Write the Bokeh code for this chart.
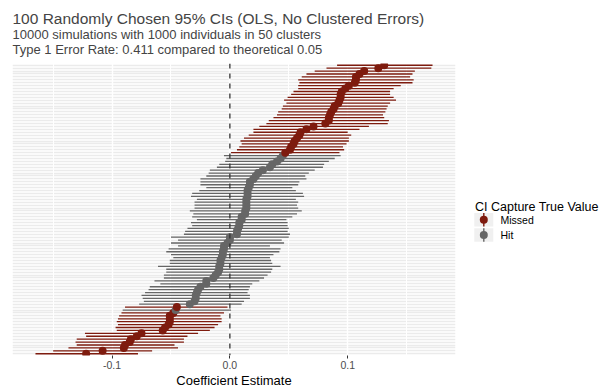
from bokeh.plotting import figure
from bokeh.models import (Range1d, FixedTicker, PrintfTickFormatter, Span, Title,
                          ColumnDataSource, Grid)
from bokeh.layouts import row
from bokeh.embed import file_html
from bokeh.resources import INLINE
from bokeh.core.properties import value

# ---------------- data (sorted by estimate, bottom to top) ----------------
estimate = [-0.122, -0.108, -0.090, -0.089, -0.085, -0.084, -0.079, -0.075, -0.057, -0.055,
            -0.052, -0.051, -0.051, -0.051, -0.048, -0.046, -0.045, -0.034, -0.030, -0.029,
            -0.029, -0.028, -0.027, -0.025, -0.020, -0.020, -0.014, -0.012, -0.010, -0.009,
            -0.009, -0.008, -0.008, -0.007, -0.006, -0.006, -0.005, -0.005, -0.002, 0.000,
            0.000, 0.006, 0.006, 0.007, 0.008, 0.008, 0.010, 0.010, 0.013, 0.013,
            0.014, 0.014, 0.014, 0.014, 0.015, 0.015, 0.015, 0.016, 0.017, 0.017,
            0.020, 0.022, 0.024, 0.028, 0.034, 0.036, 0.040, 0.043, 0.045, 0.047,
            0.051, 0.052, 0.054, 0.055, 0.057, 0.059, 0.060, 0.065, 0.071, 0.081,
            0.084, 0.084, 0.085, 0.086, 0.088, 0.089, 0.092, 0.093, 0.094, 0.094,
            0.095, 0.098, 0.101, 0.106, 0.107, 0.107, 0.110, 0.114, 0.126, 0.131]
lower = [-0.165, -0.150, -0.137, -0.130, -0.131, -0.130, -0.122, -0.123, -0.096, -0.097,
         -0.095, -0.096, -0.095, -0.094, -0.092, -0.091, -0.089, -0.077, -0.073, -0.074,
         -0.075, -0.072, -0.069, -0.068, -0.059, -0.064, -0.056, -0.056, -0.054, -0.054,
         -0.061, -0.051, -0.051, -0.048, -0.050, -0.054, -0.052, -0.044, -0.050, -0.044,
         -0.050, -0.039, -0.038, -0.036, -0.032, -0.033, -0.028, -0.032, -0.031, -0.034,
         -0.030, -0.030, -0.030, -0.028, -0.033, -0.032, -0.026, -0.020, -0.025, -0.025,
         -0.025, -0.020, -0.018, -0.017, -0.011, -0.009, -0.004, -0.003, -0.005, 0.001,
         0.006, 0.008, 0.010, 0.009, 0.012, 0.016, 0.020, 0.020, 0.025, 0.031,
         0.033, 0.037, 0.040, 0.041, 0.044, 0.045, 0.048, 0.046, 0.049, 0.052,
         0.054, 0.058, 0.058, 0.059, 0.058, 0.061, 0.065, 0.072, 0.082, 0.091]
upper = [-0.078, -0.066, -0.044, -0.047, -0.039, -0.039, -0.036, -0.027, -0.017, -0.013,
         -0.010, -0.007, -0.007, -0.008, -0.005, 0.001, -0.002, 0.010, 0.012, 0.017,
         0.017, 0.015, 0.016, 0.017, 0.019, 0.025, 0.029, 0.032, 0.035, 0.036,
         0.043, 0.036, 0.035, 0.034, 0.037, 0.042, 0.043, 0.034, 0.046, 0.044,
         0.050, 0.051, 0.049, 0.050, 0.049, 0.049, 0.048, 0.053, 0.057, 0.061,
         0.058, 0.057, 0.058, 0.056, 0.063, 0.062, 0.056, 0.053, 0.058, 0.059,
         0.065, 0.064, 0.067, 0.072, 0.079, 0.080, 0.084, 0.089, 0.094, 0.093,
         0.097, 0.096, 0.099, 0.101, 0.101, 0.103, 0.100, 0.110, 0.118, 0.134,
         0.135, 0.131, 0.130, 0.132, 0.133, 0.134, 0.136, 0.141, 0.139, 0.136,
         0.136, 0.139, 0.145, 0.155, 0.156, 0.153, 0.155, 0.157, 0.171, 0.172]
rows = list(range(len(estimate)))
x_ticks = [-0.1, 0.0, 0.1]
x_minor_grid = [-0.15, -0.05, 0.05, 0.15]
true_value = 0.0
legend_labels = ["Missed", "Hit"]

RED = "#7E1B0E"
GREY = "#666666"
FONT = "Liberation Sans"

status = ["Missed" if (lo > true_value or hi < true_value) else "Hit" for lo, hi in zip(lower, upper)]
colors = [RED if s == "Missed" else GREY for s in status]
src = ColumnDataSource(dict(row=rows, est=estimate, lo=lower, hi=upper, color=colors))

# ---------------- main figure ----------------
p = figure(width=460, height=390, output_backend="svg", toolbar_location=None,
           x_range=Range1d(-0.1845, 0.1915), y_range=Range1d(-0.6, 99.6),
           y_axis_location=None, min_border_left=12, min_border_right=5,
           min_border_top=0, min_border_bottom=0)
p.outline_line_color = None
p.background_fill_color = "white"
p.grid.visible = False

hgrid = Grid(dimension=1, ticker=FixedTicker(ticks=rows), grid_line_color="#EBEBEB",
             grid_line_width=1.6)
vgrid_minor = Grid(dimension=0, ticker=FixedTicker(ticks=x_minor_grid), grid_line_color="white",
                   grid_line_width=1.0)
vgrid_major = Grid(dimension=0, ticker=FixedTicker(ticks=x_ticks), grid_line_color="white",
                   grid_line_width=1.4)
p.add_layout(hgrid)
p.add_layout(vgrid_minor)
p.add_layout(vgrid_major)

p.segment(x0="lo", y0="row", x1="hi", y1="row", source=src, line_color="color",
          line_width=1.3)
p.add_layout(Span(location=true_value, dimension="height", line_color="#333333",
                  line_width=1.3, line_dash="5 5"))
p.scatter(x="est", y="row", source=src, size=8, fill_color="color", line_color="color",
          line_width=0)

ax = p.xaxis[0]
ax.ticker = FixedTicker(ticks=x_ticks)
ax.formatter = PrintfTickFormatter(format="%.1f")
ax.axis_line_color = None
ax.major_tick_line_color = "#333333"
ax.major_tick_out = 3
ax.major_tick_in = 0
ax.minor_tick_line_color = None
ax.major_label_text_font = FONT
ax.major_label_text_font_size = "10.5px"
ax.major_label_text_color = "#4D4D4D"
ax.major_label_standoff = 2
ax.axis_label = "Coefficient Estimate"
ax.axis_label_text_font = FONT
ax.axis_label_text_font_size = "13px"
ax.axis_label_text_font_style = "normal"
ax.axis_label_text_color = "black"
ax.axis_label_standoff = 1

t3 = Title(text="Type 1 Error Rate: 0.411 compared to theoretical 0.05", text_font=FONT,
           text_font_size="13px", text_font_style="normal", standoff=13, align="left")
t2 = Title(text="10000 simulations with 1000 individuals in 50 clusters", text_font=FONT,
           text_font_size="13px", text_font_style="normal", standoff=-17, align="left")
t1 = Title(text="100 Randomly Chosen 95% CIs (OLS, No Clustered Errors)", text_font=FONT,
           text_font_size="15.5px", text_font_style="normal", standoff=14, align="left")
p.add_layout(t3, "above")
p.add_layout(t2, "above")
p.add_layout(t1, "above")

# ---------------- legend figure ----------------
LW, LH = 152, 390
lg = figure(width=LW, height=LH, output_backend="svg", toolbar_location=None,
            x_range=Range1d(0, LW), y_range=Range1d(LH, 0),
            x_axis_location=None, y_axis_location=None,
            min_border=0, min_border_left=0, min_border_right=0,
            min_border_top=0, min_border_bottom=0)
lg.outline_line_color = None
lg.grid.visible = False

key_x = [23.3, 23.3]
key_y = [208.7, 229.2]
key_colors = [RED, GREY]
lg.text(x=[14.5], y=[191.7], text=["CI Capture True Value"], text_font=value(FONT),
        text_font_size="12.5px", text_baseline="alphabetic", text_color="black")
lg.rect(x=key_x, y=key_y, width=19, height=18, fill_color="#F0F0F0", line_color=None)
lg.segment(x0=key_x, y0=[y - 9 for y in key_y], x1=key_x, y1=[y + 9 for y in key_y],
           line_color=key_colors, line_width=1.4)
lg.scatter(x=key_x, y=key_y, size=8, fill_color=key_colors, line_color=key_colors,
           line_width=0)
lg.text(x=[40, 40], y=key_y, text=legend_labels, text_font=value(FONT),
        text_font_size="10.5px", text_baseline="middle", text_color="black")

layout = row(p, lg)
open("out.html", "w").write(file_html(layout, INLINE))
